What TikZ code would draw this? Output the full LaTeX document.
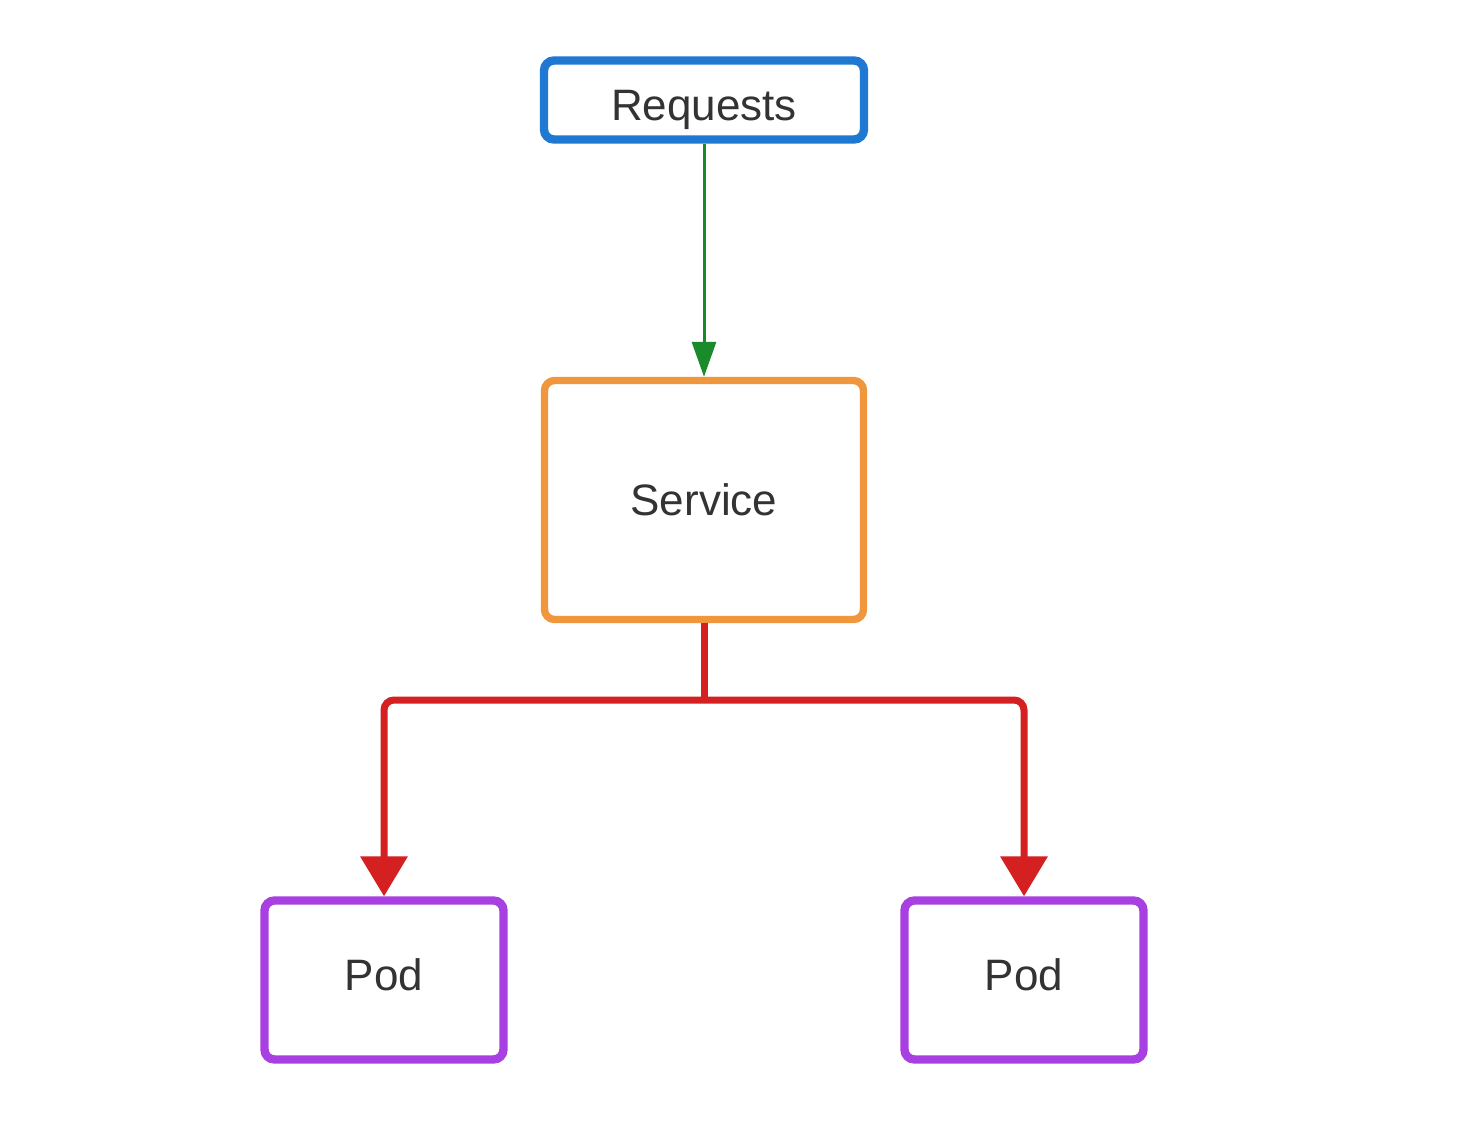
\documentclass[tikz,border=0pt]{standalone}
\usepackage{fontspec}
\setmainfont{Liberation Sans}
\usetikzlibrary{arrows.meta}
\definecolor{reqblue}{RGB}{31,120,210}
\definecolor{svcorange}{RGB}{240,150,60}
\definecolor{podpurple}{RGB}{168,63,224}
\definecolor{linkred}{RGB}{212,32,32}
\definecolor{linkgreen}{RGB}{26,138,42}
\definecolor{txtgray}{RGB}{51,51,51}
\tikzset{
  box/.style={draw, rounded corners=5pt, fill=white, inner sep=0pt,
    text=txtgray, font=\fontsize{22pt}{26pt}\selectfont},
  reqbox/.style={box, draw=reqblue, line width=4.2pt, minimum width=160pt, minimum height=39.5pt,
    text height=24.6pt, text depth=4.6pt},
  svcbox/.style={box, draw=svcorange, line width=3.7pt, minimum width=159.5pt, minimum height=119.5pt,
    text height=15pt, text depth=0pt},
  podbox/.style={box, draw=podpurple, line width=4.2pt, minimum width=119.5pt, minimum height=79.5pt,
    text height=10pt, text depth=0pt},
  greenlink/.style={draw=linkgreen, line width=1.5pt, -{Triangle[width=12pt,length=17.5pt]}},
  redlink/.style={draw=linkred, line width=3.5pt, rounded corners=5pt},
  redarrow/.style={redlink, -{Triangle[width=23pt,length=20pt]}}
}
\begin{document}
\begin{tikzpicture}[x=0.5pt,y=-0.5pt]
\useasboundingbox[fill=white] (0,0) rectangle (1472,1124);
\node[reqbox] (req) at (704,100) {Requests};
\node[svcbox] (svc) at (704,500) {Service};
\node[podbox] (podL) at (384,980) {Pod};
\node[podbox] (podR) at (1024,980) {Pod};
\coordinate (j) at (704,700);
\draw[greenlink] (req.south) -- (svc.north);
\draw[redlink] (svc.south) -- (j);
\draw[redarrow] (j) -| (podL.north);
\draw[redarrow] (j) -| (podR.north);
\end{tikzpicture}
\end{document}
